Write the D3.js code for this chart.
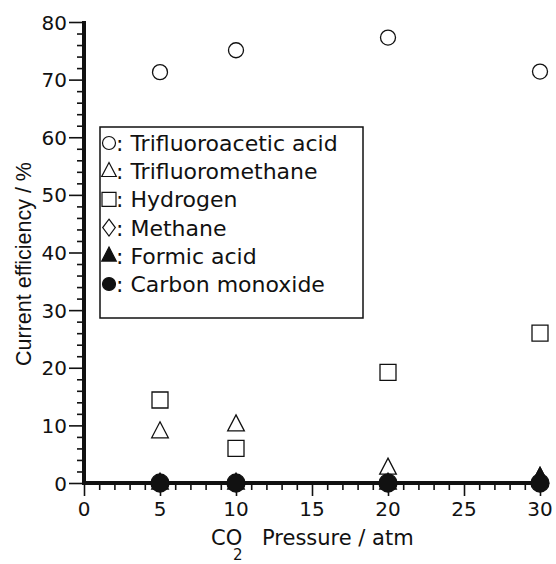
<!DOCTYPE html>
<html>
<head>
<meta charset="utf-8">
<script src="https://cdn.jsdelivr.net/npm/d3@7"></script>
<style>
  body { margin: 0; background: #fff; }
  text { font-family: "DejaVu Sans", "Liberation Sans", Arial, sans-serif; fill: #111; }
</style>
</head>
<body>
<svg id="chart" width="556" height="564"></svg>
<script>
const width = 556, height = 564;
const x0 = 84, x1 = 540, y0 = 483, y1 = 22;

// data (CO2 pressure / atm vs current efficiency / %)
const pressures = [5, 10, 20, 30];
const trifluoroacetic = [71.3, 75.1, 77.3, 71.4];
const trifluoromethane = [8.9, 10.1, 2.6, 1.0];
const hydrogen = [14.4, 6.0, 19.2, 26.0];
const methane = [0, 0, 0, 0];
const formic = [0, 0, 0, 1.0];
const carbonMonoxide = [0, 0, 0, 0];

const xTicks = [0, 5, 10, 15, 20, 25, 30];
const yTicks = [0, 10, 20, 30, 40, 50, 60, 70, 80];

const series = [
    {name: 'Trifluoroacetic acid', values: trifluoroacetic, shape: 'circle', filled: false},
    {name: 'Trifluoromethane', values: trifluoromethane, shape: 'triangle', filled: false},
    {name: 'Hydrogen', values: hydrogen, shape: 'square', filled: false},
    {name: 'Methane', values: methane, shape: 'diamond', filled: false},
    {name: 'Formic acid', values: formic, shape: 'triangle', filled: true},
    {name: 'Carbon monoxide', values: carbonMonoxide, shape: 'circle', filled: true}
];

const svg = d3.select('#chart');
const x = d3.scaleLinear().domain([0, 30]).range([x0, x1]);
const y = d3.scaleLinear().domain([0, 80]).range([y0, y1]);

// y axis
const yAxis = svg.append('g').attr('transform', `translate(${x0},0)`);
yAxis.call(d3.axisLeft(y).tickValues(d3.range(0, 81, 2)).tickSize(7).tickFormat(''));
yAxis.call(g => g.select('.domain').remove());
yAxis.selectAll('.tick line').attr('stroke', '#111').attr('stroke-width', 1.6)
    .attr('x2', d => d % 10 === 0 ? -15 : -7);
yAxis.selectAll('.ylab').data(yTicks).enter().append('text')
    .attr('class', 'ylab')
    .attr('x', -17).attr('y', d => y(d) + 7.5)
    .attr('text-anchor', 'end')
    .attr('font-size', 20)
    .text(d => d);

// x axis
const xAxis = svg.append('g').attr('transform', `translate(0,${y0})`);
xAxis.call(d3.axisBottom(x).tickValues(d3.range(0, 31, 1)).tickSize(7).tickFormat(''));
xAxis.call(g => g.select('.domain').remove());
xAxis.selectAll('.tick line').attr('stroke', '#111').attr('stroke-width', 1.6)
    .attr('y2', d => d % 5 === 0 ? 13 : 7);
xAxis.selectAll('.xlab').data(xTicks).enter().append('text')
    .attr('class', 'xlab')
    .attr('x', d => x(d)).attr('y', 33)
    .attr('text-anchor', 'middle')
    .attr('font-size', 20)
    .text(d => d);

// thick axis lines
svg.append('line').attr('x1', x0).attr('x2', x0).attr('y1', y1 - 1).attr('y2', y0 + 2)
    .attr('stroke', '#111').attr('stroke-width', 4);
svg.append('line').attr('x1', x0 - 2).attr('x2', x1 + 1).attr('y1', y0).attr('y2', y0)
    .attr('stroke', '#111').attr('stroke-width', 4);

// axis titles
svg.append('text')
    .attr('transform', 'translate(31,264) rotate(-90)')
    .attr('text-anchor', 'middle')
    .style('font-family', '"Liberation Sans", Arial, sans-serif')
    .attr('font-size', 21.5)
    .text('Current efficiency / %');

svg.append('text').attr('x', 211).attr('y', 545).attr('font-size', 21).text('CO');
svg.append('text').attr('x', 233).attr('y', 560).attr('font-size', 15).text('2');
svg.append('text').attr('x', 262).attr('y', 545).attr('font-size', 21).text('Pressure / atm');

function symbolPath(shape, size) {
    const s = size;
    if (shape === 'triangle') return `M0,${-s * 0.62}L${s * 0.52},${s * 0.38}L${-s * 0.52},${s * 0.38}Z`;
    if (shape === 'square') return `M${-s / 2},${-s / 2}h${s}v${s}h${-s}Z`;
    if (shape === 'diamond') return `M0,${-s * 0.6}L${s * 0.45},0L0,${s * 0.6}L${-s * 0.45},0Z`;
    const r = s / 2;
    return `M${r},0A${r},${r} 0 1,1 ${-r},0A${r},${r} 0 1,1 ${r},0Z`;
}
function markerSize(d) {
    if (d.shape === 'circle') return d.filled ? 18 : 15;
    if (d.shape === 'triangle') return 16;
    if (d.shape === 'square') return 16;
    return 14;
}

// points
series.forEach(s => {
    svg.append('g').selectAll('path').data(s.values).enter().append('path')
        .attr('transform', (v, i) => `translate(${x(pressures[i])},${y(v)})`)
        .attr('d', symbolPath(s.shape, markerSize(s)))
        .attr('fill', s.filled ? '#111' : '#fff')
        .attr('stroke', '#111')
        .attr('stroke-width', 1.3);
});

// legend
const lx = 100, ly = 127, lw = 263, lh = 191, rowH = 28.2;
svg.append('rect').attr('x', lx).attr('y', ly).attr('width', lw).attr('height', lh)
    .attr('fill', '#fff').attr('stroke', '#111').attr('stroke-width', 1.5);
const rows = svg.append('g').selectAll('g').data(series).enter().append('g')
    .attr('transform', (d, i) => `translate(${lx + 9},${ly + 16 + i * rowH})`);
rows.append('path')
    .attr('d', d => symbolPath(d.shape, d.shape === 'circle' ? 13 : 14))
    .attr('fill', d => d.filled ? '#111' : '#fff')
    .attr('stroke', '#111').attr('stroke-width', 1.2);
rows.append('text')
    .attr('x', 7).attr('y', 8)
    .attr('font-size', 22)
    .text(d => ': ' + d.name);
</script>
</body>
</html>
